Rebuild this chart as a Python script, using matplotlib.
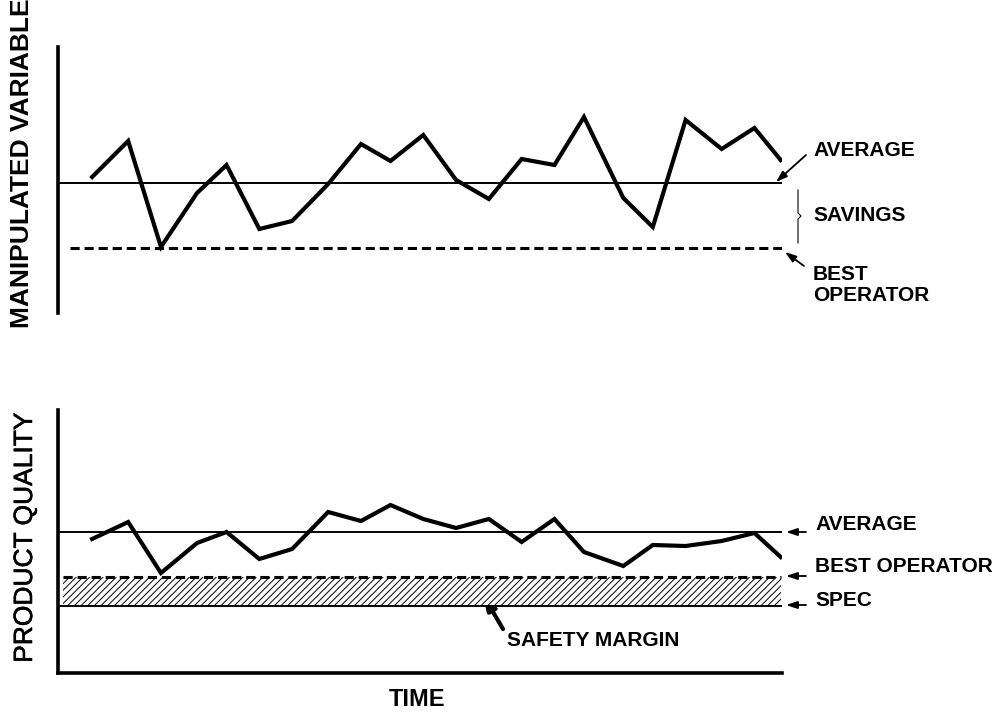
import matplotlib.pyplot as plt
import matplotlib.patheffects as pe

plt.rcParams['font.family'] = ['Liberation Sans', 'DejaVu Sans']
plt.rcParams['hatch.linewidth'] = 0.7

W, H = 996, 717

# Data (arbitrary units)
time = [0, 1.1, 2.1, 3.2, 4.1, 5.1, 6.1, 7.2, 8.2, 9.1, 10.1,
        11.1, 12.1, 13.1, 14.1, 15.0, 16.2, 17.1, 18.1, 19.2, 20.2, 21.0]
manipulated = [12.3, 15.9, 5.3, 10.7, 13.5, 7.1, 7.9, 11.6, 15.6, 13.9, 16.5,
               12.0, 10.1, 14.1, 13.5, 18.3, 10.2, 7.3, 18.0, 15.1, 17.2, 14.0]
quality = [16.1, 17.8, 12.7, 15.7, 16.8, 14.1, 15.1, 18.8, 17.9, 19.5, 18.1,
           17.2, 18.1, 15.8, 18.1, 14.8, 13.4, 15.5, 15.4, 15.9, 16.7, 14.3]

manip_average = 11.7
manip_best = 5.2
quality_average = 16.8
quality_best = 12.3
quality_spec = 9.4


def fig_xy(x, y):
    # pixel position -> figure fraction
    return (x / W, 1 - y / H)


fig = plt.figure(figsize=(W / 100, H / 100), dpi=100)

x_lo, x_hi = -1.04, 21.04

ax1 = fig.add_axes([58 / W, 1 - 313 / H, (782 - 58) / W, (313 - 47) / H])
ax2 = fig.add_axes([58 / W, 1 - 673 / H, (782 - 58) / W, (673 - 410) / H])

for ax in (ax1, ax2):
    ax.set_xlim(x_lo, x_hi)
    ax.set_xticks([])
    ax.set_yticks([])
    for s in ('top', 'right'):
        ax.spines[s].set_visible(False)
    ax.spines['left'].set_linewidth(2.6)
    ax.patch.set_alpha(0)

ax1.spines['bottom'].set_visible(False)
ax2.spines['bottom'].set_linewidth(2.6)
ax1.set_ylim(-1.3, 25.3)
ax2.set_ylim(2.7, 29.0)

# top panel
ax1.axhline(manip_average, color='black', lw=1.4)
ax1.hlines(manip_best, -0.67, x_hi, color='black', lw=2.2, linestyles=(0, (3, 1.6)))
ax1.plot(time, manipulated, color='black', lw=3, solid_joinstyle='miter')

# bottom panel
ax2.fill_between([-0.9, 21.0], quality_spec, quality_best, facecolor='white',
                 edgecolor='black', hatch='/////', linewidth=0)
ax2.hlines(quality_best, -0.9, 21.0, color='black', lw=2.2, linestyles=(0, (3, 1.6)))
ax2.axhline(quality_spec, color='black', lw=1.4)
ax2.axhline(quality_average, color='black', lw=1.4)
ax2.plot(time, quality, color='black', lw=3, solid_joinstyle='miter')


def arrow(tail, tip, lw=1.3, scale=11):
    ax1.annotate('', xy=fig_xy(*tip), xycoords='figure fraction',
                 xytext=fig_xy(*tail), textcoords='figure fraction',
                 annotation_clip=False,
                 arrowprops=dict(arrowstyle='-|>,head_length=0.6,head_width=0.2',
                                 color='black', lw=lw, mutation_scale=scale,
                                 shrinkA=0, shrinkB=0))


def label(x, y, s, **kw):
    fig.text(*fig_xy(x, y), s, fontsize=15, fontweight='bold',
             va='center', ha='left', **kw)


# top annotations
label(813, 151, 'AVERAGE')
arrow((806, 155), (776, 182))
label(813, 215, 'SAVINGS')
fig.add_artist(plt.Line2D([798 / W, 798 / W, 801 / W, 798 / W, 798 / W],
                          [1 - 190 / H, 1 - 213 / H, 1 - 216 / H, 1 - 219 / H, 1 - 243 / H],
                          color='black', lw=0.8))
label(813, 285, 'BEST\nOPERATOR', linespacing=1.15)
arrow((804, 266), (785, 252))

# bottom annotations
label(815, 525, 'AVERAGE')
arrow((806, 532), (786, 532))
label(815, 567, 'BEST OPERATOR')
arrow((806, 576), (786, 576))
label(815, 601, 'SPEC')
arrow((806, 605), (786, 605))
label(507, 640, 'SAFETY MARGIN')
arrow((503, 629), (483, 595), lw=3, scale=14)

# axis titles
fig.text(*fig_xy(22, 163), 'MANIPULATED VARIABLE', rotation=90, fontsize=19,
         fontweight='bold', ha='center', va='center')
fig.text(*fig_xy(25, 538), 'PRODUCT QUALITY', rotation=90, fontsize=19,
         ha='center', va='center',
         path_effects=[pe.withStroke(linewidth=0.4, foreground='black')])
fig.text(*fig_xy(417, 700), 'TIME', fontsize=17, fontweight='bold',
         ha='center', va='center')

fig.savefig('out.png', dpi=100)
